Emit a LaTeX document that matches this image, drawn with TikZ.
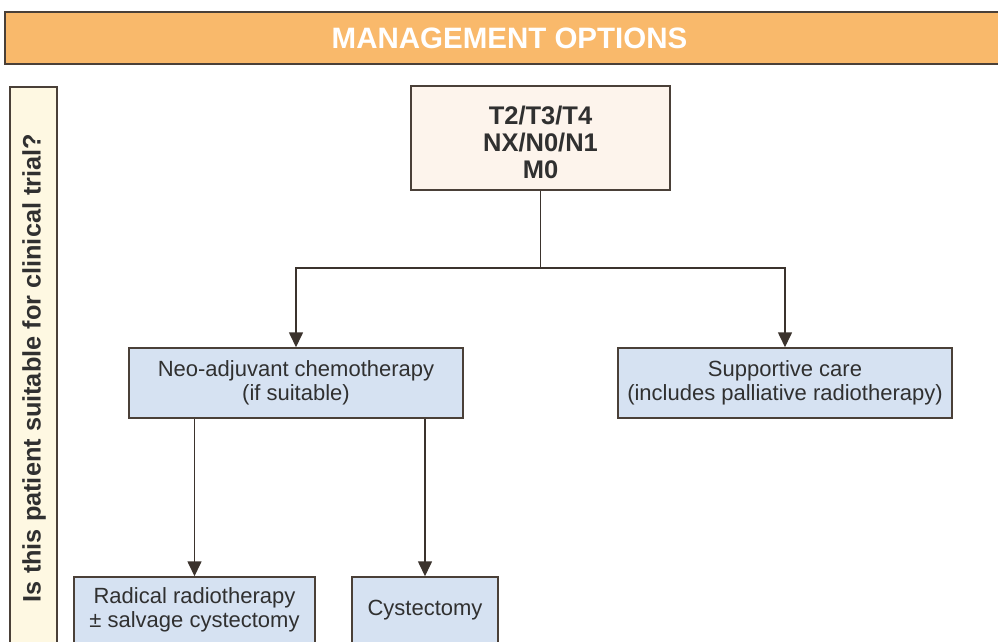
\documentclass[tikz,border=0pt]{standalone}
\usepackage{fontspec}
\setmainfont{Liberation Sans}
\usetikzlibrary{arrows.meta}
\definecolor{hdrfill}{HTML}{F9B96B}
\definecolor{edge}{HTML}{4A4038}
\definecolor{sidefill}{HTML}{FEF8E2}
\definecolor{topfill}{HTML}{FDF4EC}
\definecolor{bluefill}{HTML}{D6E2F2}
\definecolor{txt}{HTML}{303030}
\tikzset{
  box/.style={draw=edge, line width=1.5pt, inner sep=0pt, align=center, text=txt},
  bluebox/.style={box, fill=bluefill, font=\fontsize{22}{24}\selectfont},
  conn/.style={draw=edge!80!black, line width=1.6pt},
  arr/.style={conn, -{Triangle[length=15pt,width=14pt]}},
}
\begin{document}
\begin{tikzpicture}[x=1pt,y=-1pt]
\useasboundingbox (0,0) rectangle (998,641);
\clip (0,0) rectangle (998,641);
\node[box, fill=hdrfill, minimum width=1009pt, minimum height=52pt, text=white,
  font=\fontsize{29.5}{31}\selectfont\bfseries] (hdr) at (509.5,38) {MANAGEMENT OPTIONS};
\node[box, fill=sidefill, minimum width=47pt, minimum height=580pt] (side) at (33.5,377) {};
\node[text=txt, rotate=90, inner sep=0pt, font=\fontsize{25.3}{27}\selectfont\bfseries] (sidetxt) at (34,368) {Is this patient suitable for clinical trial?};
\node[box, fill=topfill, minimum width=259pt, minimum height=104pt] (top) at (540.5,138) {};
\node[text=txt, align=center, inner sep=0pt, font=\fontsize{25.5}{27}\selectfont\bfseries] (toptxt) at (540.5,142) {T2/T3/T4\\NX/N0/N1\\M0};
\node[bluebox, minimum width=334pt, minimum height=70pt] (neo) at (296,383) {Neo-adjuvant chemotherapy\\(if suitable)};
\node[bluebox, minimum width=334pt, minimum height=70pt] (sup) at (785,383) {Supportive care\\(includes palliative radiotherapy)};
\node[bluebox, minimum width=241pt, minimum height=66pt] (rad) at (194.5,610) {Radical radiotherapy\\± salvage cystectomy};
\node[bluebox, minimum width=146pt, minimum height=66pt] (cys) at (425,610) {Cystectomy};
\coordinate (j) at (540.5,268);
\draw[conn] (top.south) -- (j);
\draw[arr] (j) -| (neo.north);
\draw[arr] (j) -| (sup.north);
\draw[arr] (rad.north |- neo.south) -- (rad.north);
\draw[arr] (cys.north |- neo.south) -- (cys.north);
\end{tikzpicture}
\end{document}
